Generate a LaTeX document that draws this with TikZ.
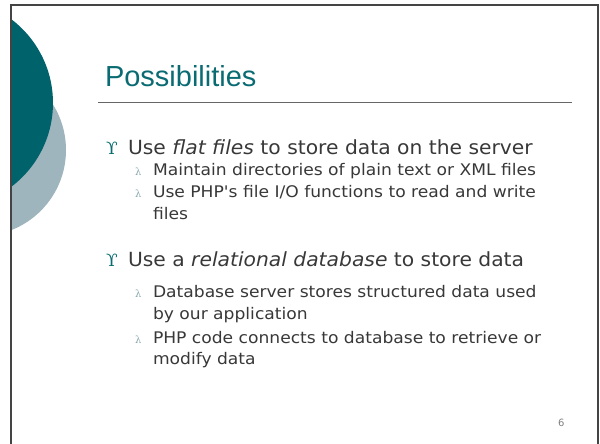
\documentclass[tikz,border=0pt]{standalone}
\usepackage{fontspec}
\setmainfont{DejaVu Sans}
\newfontfamily\titlefont{Liberation Sans}
\newfontfamily\bulletfont{DejaVu Serif}
\newfontfamily\bodyfont{DejaVu Sans}[FakeStretch=1.04]
\newfontfamily\subfont{DejaVu Sans}[FakeStretch=1.07]
\definecolor{darkteal}{HTML}{00626A}
\definecolor{lightteal}{HTML}{9EB5BE}
\definecolor{titlecol}{HTML}{0A6B72}
\definecolor{textcol}{HTML}{383838}
\definecolor{subbul}{HTML}{8AA9AF}
\definecolor{framecol}{HTML}{444444}
\tikzset{
  every node/.style={inner sep=0pt, outer sep=0pt, anchor=base west},
  mainbul/.style={text=titlecol, font=\bulletfont\fontsize{17}{20}\selectfont},
  subbullet/.style={text=subbul, font=\bulletfont\fontsize{10}{12}\selectfont},
  maintext/.style={text=textcol, font=\bodyfont\fontsize{19.5}{23}\selectfont},
  subtext/.style={text=textcol, font=\subfont\fontsize{16}{19}\selectfont},
}
\begin{document}
\begin{tikzpicture}[x=1pt,y=-1pt]
\useasboundingbox (0,0) rectangle (600,444);
% decorative circles
\begin{scope}
  \clip (12,5) rectangle (597,444);
  \fill[lightteal] (-20,150) circle (86);
  \fill[darkteal] (-52,103) circle (105);
\end{scope}
% frame
\draw[framecol, line width=2pt] (11,444) -- (11,5) -- (598,5) -- (598,444);
% title
\node[text=titlecol, font=\titlefont\fontsize{29}{34}\selectfont] (title) at (105,87) {Possibilities};
\draw[gray!80!black, line width=1pt] (98,102) -- (572,102);
% bullet 1
\node[mainbul] (b1) at (106,154) {ϒ};
\node[maintext] (t1) at (128,154) {Use \textit{flat files} to store data on the server};
\node[subbullet] (s1b) at (135,175) {λ};
\node[subtext] (s1) at (153,175) {Maintain directories of plain text or XML files};
\node[subbullet] (s2b) at (135,197) {λ};
\node[subtext] (s2) at (153,197) {Use PHP's file I/O functions to read and write};
\node[subtext] (s2c) at (153,219) {files};
% bullet 2
\node[mainbul] (b2) at (106,266) {ϒ};
\node[maintext] (t2) at (128,266) {Use a \textit{relational database} to store data};
\node[subbullet] (s3b) at (135,297) {λ};
\node[subtext] (s3) at (153,297) {Database server stores structured data used};
\node[subtext] (s3c) at (153,319) {by our application};
\node[subbullet] (s4b) at (135,343) {λ};
\node[subtext] (s4) at (153,343) {PHP code connects to database to retrieve or};
\node[subtext] (s4c) at (153,364) {modify data};
% page number
\node[text=gray, font=\fontsize{10}{12}\selectfont] (pg) at (558,426) {6};
\end{tikzpicture}
\end{document}
